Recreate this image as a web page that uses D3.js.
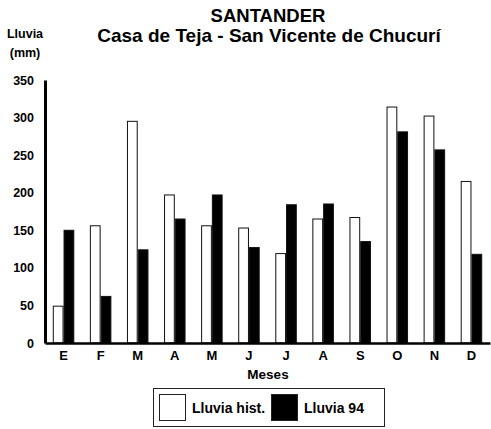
<!DOCTYPE html>
<html>
<head>
<meta charset="utf-8">
<script src="https://cdn.jsdelivr.net/npm/d3@7"></script>
<style>
  html, body { margin: 0; padding: 0; background: #fff; }
  svg { display: block; font-family: "Liberation Sans", Arial, Helvetica, sans-serif; }
</style>
</head>
<body>
<svg id="chart" width="491" height="429"></svg>
<script>
// Monthly rainfall (mm): historical average vs. 1994
const months = ["E", "F", "M", "A", "M", "J", "J", "A", "S", "O", "N", "D"];
const lluviaHist = [49, 156, 295, 197, 156, 153, 119, 165, 167, 314, 302, 215];
const lluvia94   = [150, 62, 124, 165, 197, 127, 184, 185, 135, 281, 257, 118];
const yTicks = [0, 50, 100, 150, 200, 250, 300, 350];
const seriesKeys = ["hist", "94"];
const seriesLabels = ["Lluvia hist.", "Lluvia 94"];

const rows = months.map((m, i) => ({ key: i, month: m, hist: lluviaHist[i], "94": lluvia94[i] }));

const svg = d3.select("#chart");
const plot = { left: 45, right: 490, top: 80, bottom: 343 };

const x0 = d3.scaleBand()
  .domain(rows.map(d => d.key))
  .range([plot.left, plot.right])
  .paddingInner(0.42)
  .paddingOuter(0.21);

const x1 = d3.scaleBand()
  .domain(seriesKeys)
  .range([0, x0.bandwidth()]);

const y = d3.scaleLinear().domain([0, 350]).range([plot.bottom, plot.top]);

const fill = { hist: "#fff", "94": "#000" };

// Bars
const groups = svg.append("g").selectAll("g")
  .data(rows)
  .join("g")
  .attr("transform", d => `translate(${x0(d.key)},0)`);

groups.selectAll("rect")
  .data(d => seriesKeys.map(k => ({ k, v: d[k] })))
  .join("rect")
  .attr("x", d => x1(d.k) + 0.5)
  .attr("y", d => y(d.v))
  .attr("width", x1.bandwidth() - 1)
  .attr("height", d => y(0) - y(d.v))
  .attr("fill", d => fill[d.k])
  .attr("stroke", "#111")
  .attr("stroke-width", 1);

// Y axis
const yAxis = svg.append("g")
  .attr("transform", `translate(${plot.left},0)`)
  .call(d3.axisLeft(y).tickValues(yTicks).tickSize(0).tickPadding(11));
yAxis.select(".domain").attr("stroke", "#000").attr("stroke-width", 3);
yAxis.selectAll("text")
  .attr("font-size", 12.5).attr("font-weight", "bold").attr("fill", "#000")
  .attr("font-family", "Liberation Sans, Arial, sans-serif");

// X axis
const xAxis = svg.append("g")
  .attr("transform", `translate(0,${plot.bottom})`)
  .call(d3.axisBottom(x0).tickFormat(i => months[i]).tickSize(0).tickPadding(8));
xAxis.select(".domain").attr("stroke", "#000").attr("stroke-width", 2.5);
xAxis.selectAll("text")
  .attr("font-size", 13).attr("font-weight", "bold").attr("fill", "#000")
  .attr("font-family", "Liberation Sans, Arial, sans-serif");

// Titles
svg.append("text").attr("x", 268).attr("y", 22).attr("text-anchor", "middle")
  .attr("font-size", 18.5).attr("font-weight", "bold").text("SANTANDER");
svg.append("text").attr("x", 269).attr("y", 42).attr("text-anchor", "middle")
  .attr("font-size", 19).attr("font-weight", "bold").text("Casa de Teja - San Vicente de Chucurí");

// Y axis title
svg.append("text").attr("x", 25).attr("y", 38).attr("text-anchor", "middle")
  .attr("font-size", 12.5).attr("font-weight", "bold").text("Lluvia");
svg.append("text").attr("x", 25).attr("y", 57).attr("text-anchor", "middle")
  .attr("font-size", 12.5).attr("font-weight", "bold").text("(mm)");

// X axis title
svg.append("text").attr("x", 268).attr("y", 379).attr("text-anchor", "middle")
  .attr("font-size", 13.5).attr("font-weight", "bold").text("Meses");

// Legend
const legend = svg.append("g");
legend.append("rect").attr("x", 153.5).attr("y", 388.5).attr("width", 231).attr("height", 38)
  .attr("fill", "#fff").attr("stroke", "#222").attr("stroke-width", 1);
const legendX = [159, 271];
seriesKeys.forEach((k, i) => {
  legend.append("rect").attr("x", legendX[i] + 0.5).attr("y", 394.5).attr("width", 26).attr("height", 26)
    .attr("fill", fill[k]).attr("stroke", "#222").attr("stroke-width", 1);
  legend.append("text").attr("x", legendX[i] + 33).attr("y", 413)
    .attr("font-size", 14).attr("font-weight", "bold").text(seriesLabels[i]);
});
</script>
</body>
</html>
